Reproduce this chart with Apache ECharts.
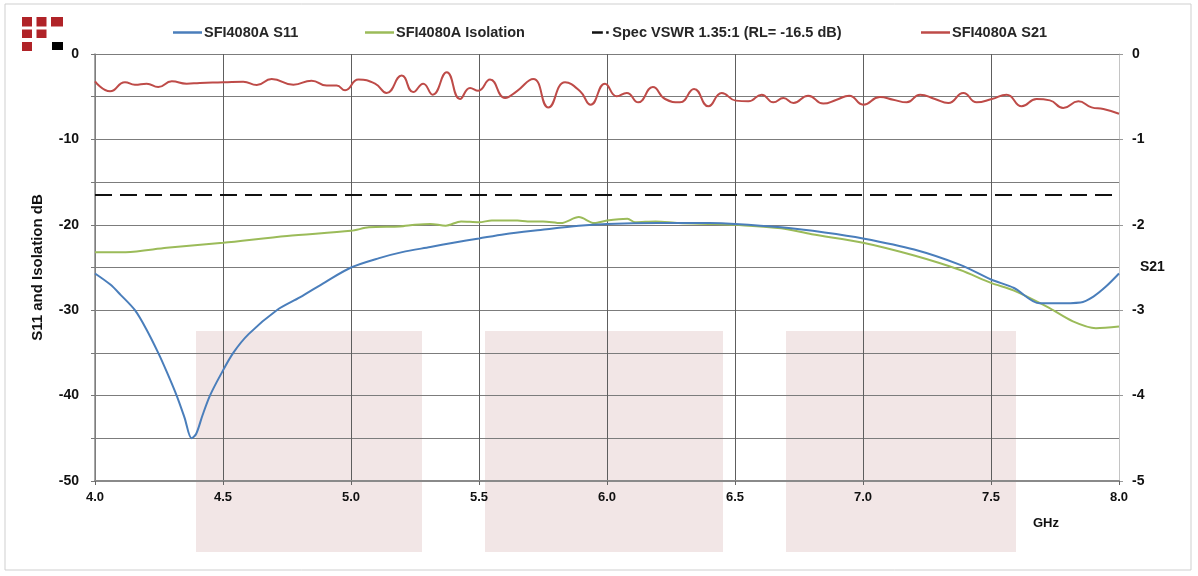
<!DOCTYPE html>
<html>
<head>
<meta charset="utf-8">
<script src="https://cdn.jsdelivr.net/npm/echarts@6/dist/echarts.min.js"></script>
<style>html,body{margin:0;padding:0;background:#fff}#c{width:1198px;height:576px}</style>
</head>
<body>
<div id="c"></div>
<script>
// ---- data ----
const s11Freq = [4.00,4.06,4.10,4.156,4.20,4.247,4.28,4.319,4.35,4.377,4.395,4.42,4.449,4.49,4.54,4.60,4.71,4.80,4.90,5.00,5.11,5.20,5.31,5.40,5.50,5.60,5.74,5.89,6.00,6.20,6.40,6.50,6.68,6.85,7.00,7.20,7.38,7.50,7.59,7.69,7.75,7.85,7.90,7.95,8.00];
const s11Val  = [-25.7,-27.0,-28.2,-30.0,-32.2,-35.0,-37.2,-40.0,-42.6,-45.0,-44.5,-42.3,-40.0,-37.6,-35.0,-32.8,-30.0,-28.5,-26.7,-25.0,-23.9,-23.2,-22.6,-22.1,-21.6,-21.1,-20.6,-20.1,-19.9,-19.8,-19.8,-19.9,-20.3,-20.9,-21.6,-22.9,-24.7,-26.4,-27.4,-29.2,-29.2,-29.1,-28.4,-27.2,-25.7];

const isoFreq = [4.00,4.12,4.28,4.50,4.75,5.00,5.07,5.19,5.25,5.31,5.37,5.43,5.50,5.55,5.65,5.69,5.75,5.82,5.89,5.95,6.00,6.08,6.11,6.19,6.28,6.42,6.50,6.68,6.80,7.00,7.20,7.38,7.50,7.59,7.72,7.82,7.91,8.00];
const isoVal  = [-23.2,-23.2,-22.7,-22.1,-21.3,-20.7,-20.3,-20.2,-20.0,-19.9,-20.1,-19.6,-19.7,-19.5,-19.5,-19.6,-19.6,-19.8,-19.1,-19.8,-19.5,-19.3,-19.7,-19.6,-19.8,-19.9,-20.0,-20.4,-21.1,-22.1,-23.6,-25.3,-26.8,-27.7,-29.6,-31.3,-32.1,-31.9];

const specFreq = [4.0, 8.0];
const specVal  = [-16.5, -16.5];

const s21Freq = [4.000,4.059,4.117,4.156,4.202,4.247,4.300,4.358,4.410,4.501,4.579,4.632,4.690,4.775,4.846,4.905,4.944,4.977,5.029,5.094,5.139,5.198,5.243,5.282,5.319,5.374,5.426,5.465,5.497,5.543,5.602,5.647,5.712,5.771,5.836,5.895,5.936,5.992,6.038,6.077,6.122,6.179,6.227,6.285,6.340,6.396,6.448,6.503,6.552,6.604,6.650,6.689,6.728,6.786,6.845,6.897,6.946,7.001,7.066,7.118,7.171,7.223,7.281,7.333,7.392,7.444,7.503,7.561,7.620,7.678,7.730,7.782,7.841,7.893,7.939,8.000];
const s21Val  = [-0.32,-0.437,-0.33,-0.36,-0.347,-0.386,-0.32,-0.347,-0.339,-0.332,-0.324,-0.362,-0.292,-0.359,-0.312,-0.37,-0.37,-0.425,-0.30,-0.347,-0.456,-0.253,-0.445,-0.347,-0.476,-0.214,-0.527,-0.397,-0.43,-0.30,-0.515,-0.437,-0.292,-0.625,-0.332,-0.437,-0.593,-0.347,-0.496,-0.456,-0.566,-0.386,-0.527,-0.566,-0.409,-0.613,-0.456,-0.546,-0.554,-0.476,-0.566,-0.515,-0.573,-0.488,-0.581,-0.535,-0.488,-0.593,-0.503,-0.535,-0.566,-0.476,-0.527,-0.573,-0.456,-0.566,-0.527,-0.476,-0.613,-0.527,-0.543,-0.632,-0.554,-0.625,-0.644,-0.699];

const xTicks = ['4.0','4.5','5.0','5.5','6.0','6.5','7.0','7.5','8.0'];
const names = ['SFI4080A S11','SFI4080A Isolation','Spec VSWR 1.35:1 (RL= -16.5 dB)','SFI4080A S21'];

const pairs = (xs, ys) => xs.map((x, i) => [x, ys[i]]);

const FONT = 'Liberation Sans, Arial, sans-serif';
const chart = echarts.init(document.getElementById('c'), null, {renderer: 'canvas'});

const legendBase = (left, name, w, icon) => ({
  left: left, top: 20, itemWidth: w, itemHeight: 2.5,
  data: [{name: name, icon: icon || 'rect'}],
  textStyle: {fontFamily: FONT, fontWeight: 'bold', fontSize: 14.5, color: '#262626', padding: [0, 0, 0, -3]},
  selectedMode: false
});

chart.setOption({
  animation: false,
  backgroundColor: '#fff',
  legend: [
    legendBase(168, names[0], 29),
    legendBase(360, names[1], 29),
    legendBase(587, names[2], 20, 'path://M0,0H13V3H0Z M17,0H20V3H17Z'),
    legendBase(916, names[3], 29)
  ],
  grid: {left: 95, right: 79, top: 54, bottom: 95, containLabel: false},
  graphic: [
    {type: 'rect', z: -5, shape: {x: 5, y: 4, width: 1186, height: 566}, style: {fill: '#fff', stroke: '#cfcfcf', lineWidth: 1}},
    {type: 'rect', z: -1, shape: {x: 196, y: 331, width: 226, height: 221}, style: {fill: '#f2e6e6'}},
    {type: 'rect', z: -1, shape: {x: 485, y: 331, width: 238, height: 221}, style: {fill: '#f2e6e6'}},
    {type: 'rect', z: -1, shape: {x: 786, y: 331, width: 230, height: 221}, style: {fill: '#f2e6e6'}},
    {type: 'rect', shape: {x: 22, y: 17, width: 10, height: 9.5}, style: {fill: '#b02328'}},
    {type: 'rect', shape: {x: 36.5, y: 17, width: 10, height: 9.5}, style: {fill: '#b02328'}},
    {type: 'rect', shape: {x: 51, y: 17, width: 12, height: 9.5}, style: {fill: '#b02328'}},
    {type: 'rect', shape: {x: 22, y: 29.5, width: 10, height: 8.5}, style: {fill: '#b02328'}},
    {type: 'rect', shape: {x: 36.5, y: 29.5, width: 10, height: 8.5}, style: {fill: '#b02328'}},
    {type: 'rect', shape: {x: 22, y: 42, width: 10, height: 9}, style: {fill: '#b02328'}},
    {type: 'rect', shape: {x: 52, y: 42, width: 11, height: 8}, style: {fill: '#000'}},
    {type: 'text', left: 1033, top: 517, style: {text: 'GHz', font: 'bold 13px ' + FONT, fill: '#111'}},
    {type: 'text', left: 1140, top: 260, style: {text: 'S21', font: 'bold 14px ' + FONT, fill: '#111'}}
  ],
  xAxis: {
    type: 'value', min: 4, max: 8, interval: 0.5,
    axisLine: {show: true, onZero: false, lineStyle: {color: '#8a8a8a', width: 2}},
    axisTick: {show: true, length: 4, lineStyle: {color: '#666'}},
    axisLabel: {
      margin: 10, fontFamily: FONT, fontWeight: 'bold', fontSize: 13, color: '#111',
      formatter: v => xTicks[Math.round((v - 4) / 0.5)]
    },
    splitLine: {show: true, lineStyle: {color: '#5e5e5e', width: 1}}
  },
  yAxis: [
    {
      type: 'value', min: -50, max: 0, interval: 5,
      name: 'S11 and Isolation dB', nameLocation: 'middle', nameGap: 50, nameRotate: 90,
      nameTextStyle: {fontFamily: FONT, fontWeight: 'bold', fontSize: 15, color: '#111'},
      axisLine: {show: true, lineStyle: {color: '#8a8a8a', width: 1.5}},
      axisTick: {show: true, length: 4, lineStyle: {color: '#777'}},
      axisLabel: {
        margin: 16, fontFamily: FONT, fontWeight: 'bold', fontSize: 14, color: '#111',
        formatter: v => (v % 10 === 0 ? String(v) : '')
      },
      splitLine: {show: true, lineStyle: {color: '#7c7c7c', width: 1}}
    },
    {
      type: 'value', min: -5, max: 0, interval: 1, position: 'right',
      axisLine: {show: true, lineStyle: {color: '#c4c4c4', width: 1}},
      axisTick: {show: true, length: 4, lineStyle: {color: '#999'}},
      axisLabel: {margin: 13, fontFamily: FONT, fontWeight: 'bold', fontSize: 14, color: '#111'},
      splitLine: {show: false}
    }
  ],
  series: [
    {name: names[0], type: 'line', yAxisIndex: 0, data: pairs(s11Freq, s11Val), smooth: 0.3,
     symbol: 'none', lineStyle: {color: '#4a7ebb', width: 2}, itemStyle: {color: '#4a7ebb'}, z: 4},
    {name: names[1], type: 'line', yAxisIndex: 0, data: pairs(isoFreq, isoVal), smooth: 0.3,
     symbol: 'none', lineStyle: {color: '#9bbb59', width: 2}, itemStyle: {color: '#9bbb59'}, z: 3},
    {name: names[2], type: 'line', yAxisIndex: 0, data: pairs(specFreq, specVal),
     symbol: 'none', lineStyle: {color: '#111', width: 2, type: [17, 8]}, itemStyle: {color: '#111'}, z: 3},
    {name: names[3], type: 'line', yAxisIndex: 1, data: pairs(s21Freq, s21Val), smooth: 0.5,
     symbol: 'none', lineStyle: {color: '#be4b48', width: 2}, itemStyle: {color: '#be4b48'}, z: 3}
  ]
});
</script>
</body>
</html>
